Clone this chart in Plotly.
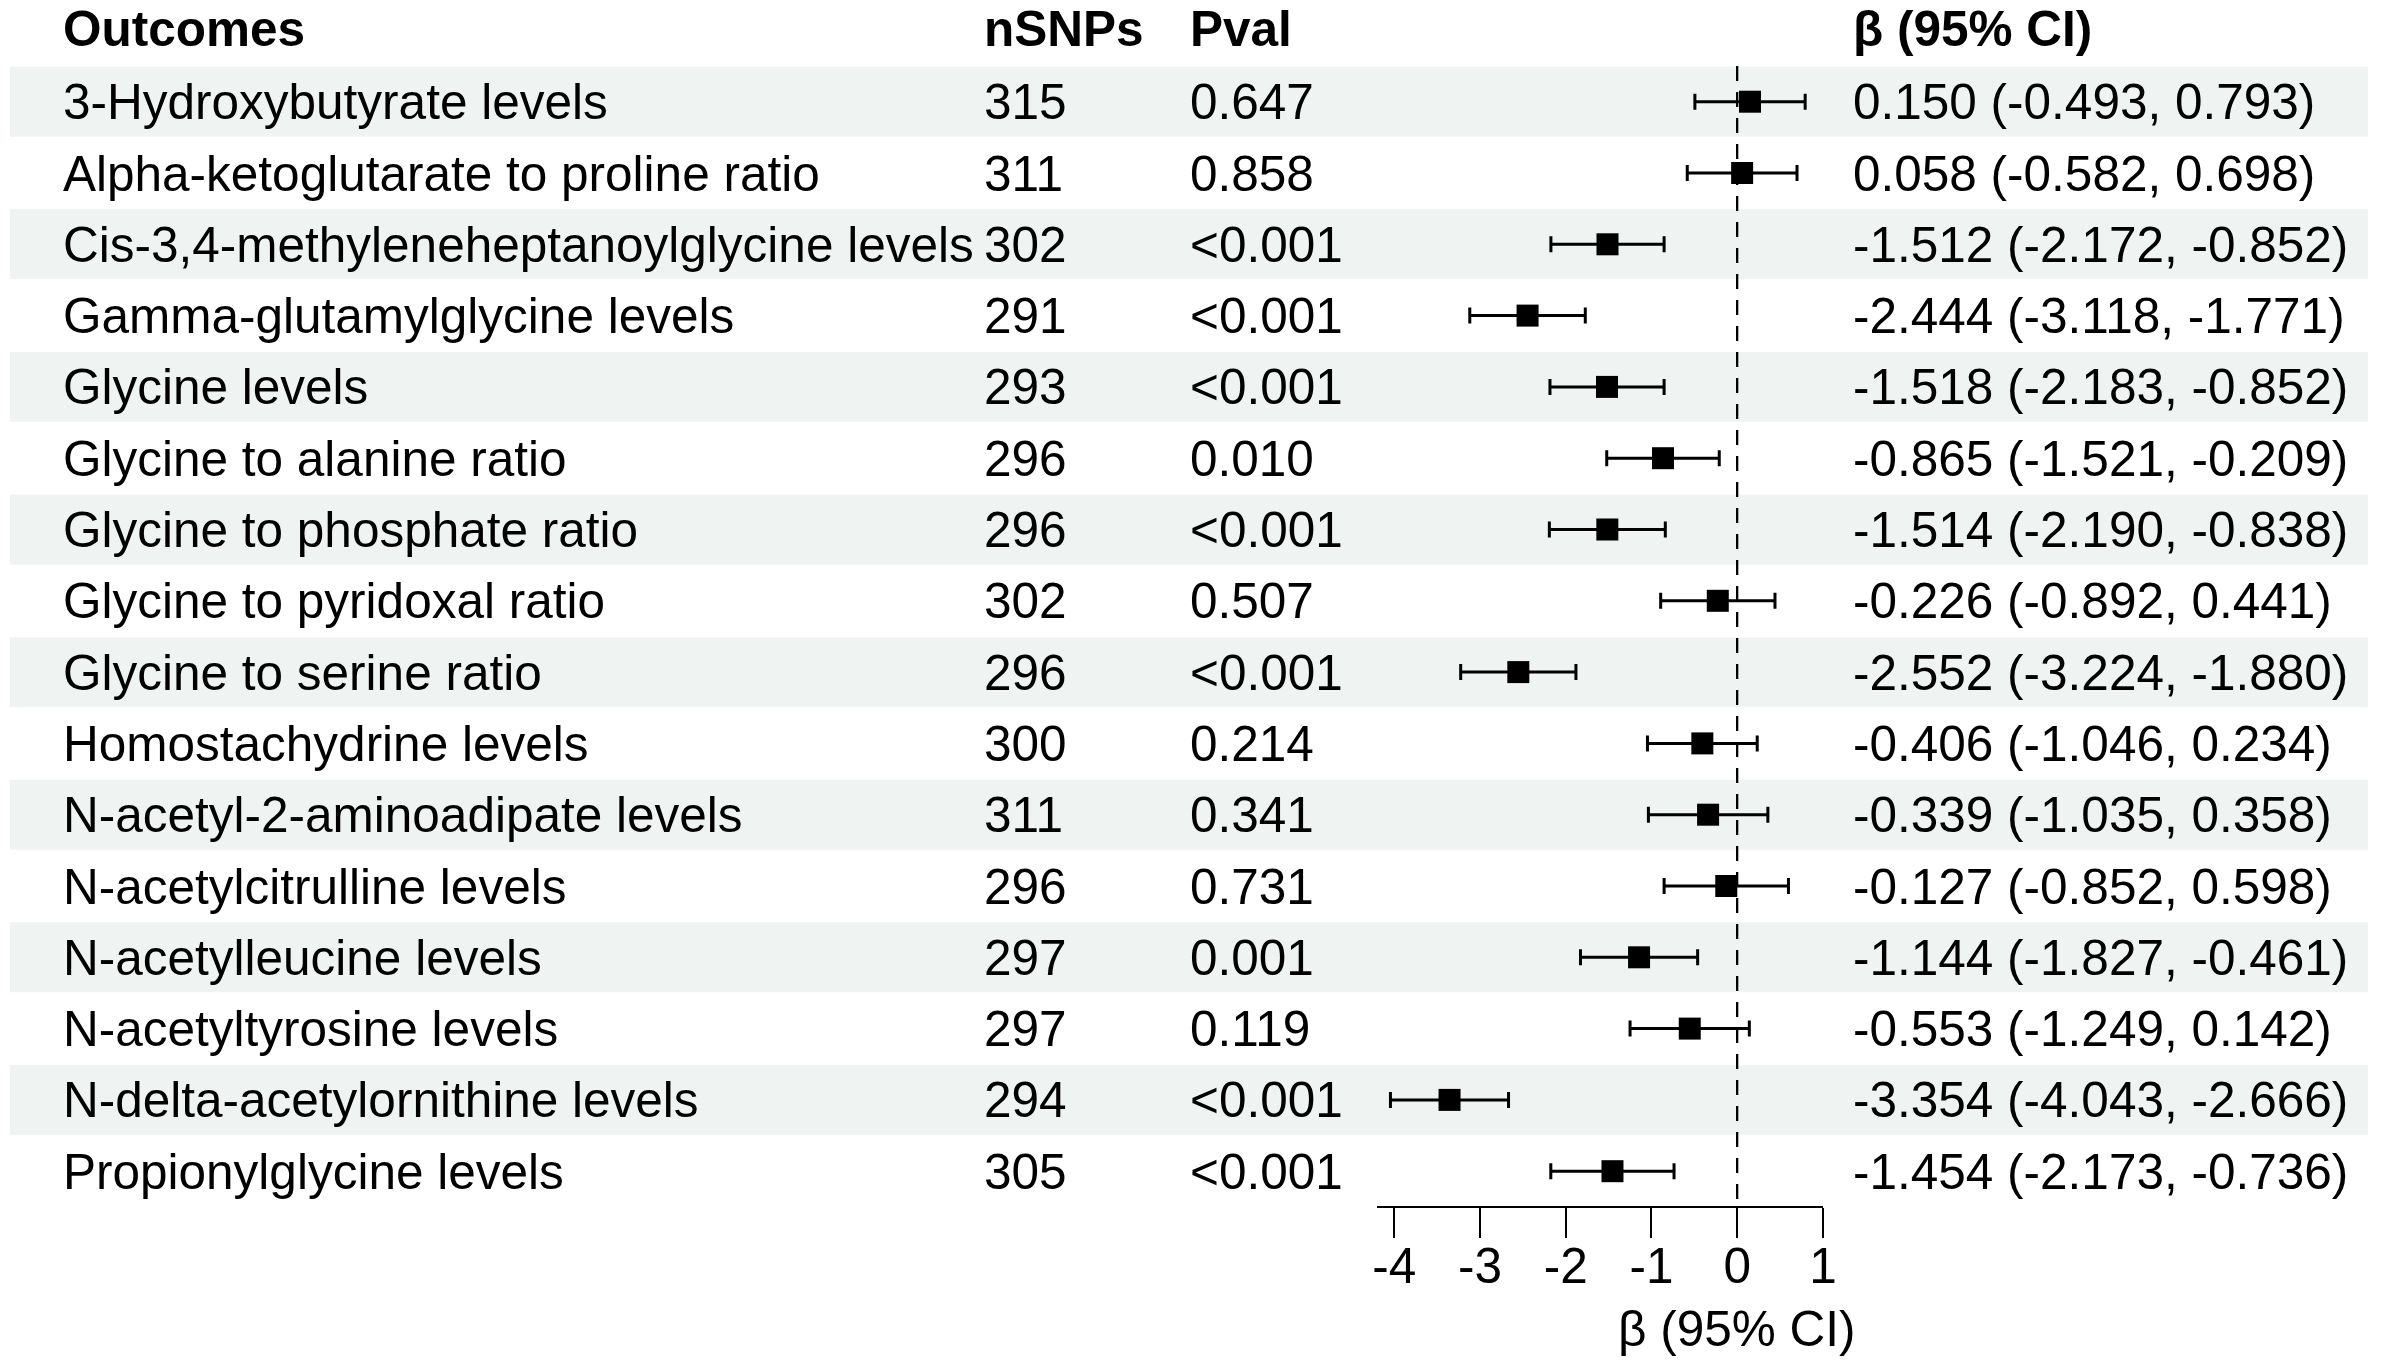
import plotly.graph_objects as go

outcomes = [
    "3-Hydroxybutyrate levels",
    "Alpha-ketoglutarate to proline ratio",
    "Cis-3,4-methyleneheptanoylglycine levels",
    "Gamma-glutamylglycine levels",
    "Glycine levels",
    "Glycine to alanine ratio",
    "Glycine to phosphate ratio",
    "Glycine to pyridoxal ratio",
    "Glycine to serine ratio",
    "Homostachydrine levels",
    "N-acetyl-2-aminoadipate levels",
    "N-acetylcitrulline levels",
    "N-acetylleucine levels",
    "N-acetyltyrosine levels",
    "N-delta-acetylornithine levels",
    "Propionylglycine levels",
]
nsnps = [315, 311, 302, 291, 293, 296, 296, 302, 296, 300, 311, 296, 297, 297, 294, 305]
pvals = ["0.647", "0.858", "<0.001", "<0.001", "<0.001", "0.010", "<0.001", "0.507",
         "<0.001", "0.214", "0.341", "0.731", "0.001", "0.119", "<0.001", "<0.001"]
beta = [0.150, 0.058, -1.512, -2.444, -1.518, -0.865, -1.514, -0.226,
        -2.552, -0.406, -0.339, -0.127, -1.144, -0.553, -3.354, -1.454]
lower = [-0.493, -0.582, -2.172, -3.118, -2.183, -1.521, -2.190, -0.892,
         -3.224, -1.046, -1.035, -0.852, -1.827, -1.249, -4.043, -2.173]
upper = [0.793, 0.698, -0.852, -1.771, -0.852, -0.209, -0.838, 0.441,
         -1.880, 0.234, 0.358, 0.598, -0.461, 0.142, -2.666, -0.736]
headers = ["Outcomes", "nSNPs", "Pval", "β (95% CI)"]
tick_vals = [-4, -3, -2, -1, 0, 1]
tick_text = ["-4", "-3", "-2", "-1", "0", "1"]
x_title = "β (95% CI)"

W, H = 2387, 1362
FONT = "Liberation Sans, Arial, Helvetica, sans-serif"
FS = 49.5
ROW0, ROWH = 101.7, 71.3  # pixel centre of row 1, row height

def py(pix):
    return 1 + (pix - ROW0) / ROWH

rows = list(range(1, len(outcomes) + 1))

fig = go.Figure()

fig.add_trace(go.Scatter(
    x=beta, y=rows, mode="markers",
    marker=dict(symbol="square", size=22, color="black"),
    error_x=dict(type="data", symmetric=False,
                 array=[u - b for u, b in zip(upper, beta)],
                 arrayminus=[b - l for b, l in zip(beta, lower)],
                 color="black", thickness=3, width=8),
    showlegend=False, hoverinfo="skip",
))

shapes = []
for r in rows:
    if r % 2 == 1:
        shapes.append(dict(type="rect", xref="paper", yref="y",
                           x0=5 / W, x1=2382 / W, y0=r - 0.49, y1=r + 0.49,
                           fillcolor="#eff3f2", line=dict(width=0), layer="below"))
shapes.append(dict(type="line", xref="x", yref="y", x0=0, x1=0, y0=0.5, y1=16.5,
                   line=dict(color="black", width=2.3, dash="15px,11px"), layer="above"))

ann = []
col_x = [56, 985, 1192, 1861]
for cx, h in zip(col_x, headers):
    ann.append(dict(x=cx / W, xref="paper", y=py(28), yref="y", text="<b>%s</b>" % h,
                    showarrow=False, xanchor="left", yanchor="middle",
                    font=dict(size=FS, family=FONT, color="black")))
for r, o, n, p, b, l, u in zip(rows, outcomes, nsnps, pvals, beta, lower, upper):
    texts = [o, str(n), p, "%.3f (%.3f, %.3f)" % (b, l, u)]
    for cx, t in zip(col_x, texts):
        ann.append(dict(x=cx / W, xref="paper", y=r, yref="y", text=t,
                        showarrow=False, xanchor="left", yanchor="middle",
                        font=dict(size=FS, family=FONT, color="black")))
ann.append(dict(x=0, xref="x", y=py(1328), yref="y", text=x_title, showarrow=False,
                xanchor="center", yanchor="middle",
                font=dict(size=FS, family=FONT, color="black")))

fig.update_layout(
    width=W, height=H, margin=dict(l=0, r=0, t=0, b=0),
    paper_bgcolor="white", plot_bgcolor="rgba(0,0,0,0)",
    font=dict(family=FONT, size=FS, color="black"),
    shapes=shapes, annotations=ann,
    xaxis=dict(domain=[1383 / W, 1832.5 / W], range=[-4.2, 1.0],
               anchor="free", position=1 - 1207 / H,
               showline=True, linecolor="black", linewidth=2,
               ticks="outside", ticklen=30, tickwidth=2, tickcolor="black",
               tickvals=tick_vals, ticktext=tick_text, ticklabelstandoff=-14,
               tickfont=dict(size=FS, family=FONT, color="black"),
               showgrid=False, zeroline=False, fixedrange=True),
    yaxis=dict(domain=[0, 1], range=[py(H), py(0)], visible=False,
               showgrid=False, zeroline=False, fixedrange=True),
)

fig.write_html("out.html", config={"displayModeBar": False},
               post_script="document.body.style.margin='0';document.body.style.padding='0';document.documentElement.style.overflow='hidden';")
